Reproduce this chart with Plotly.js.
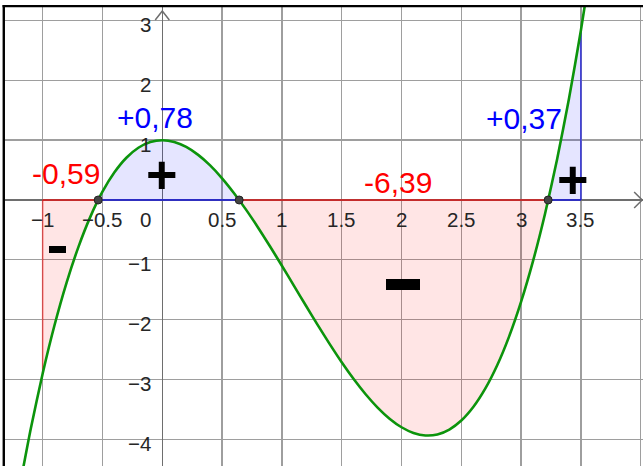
<!DOCTYPE html>
<html>
<head>
<meta charset="utf-8">
<script src="https://cdn.plot.ly/plotly-3.0.1.min.js"></script>
<style>html,body{margin:0;padding:0;background:#fff;}#chart{width:643px;height:466px;}</style>
</head>
<body>
<div id="chart"></div>
<script>
// Curve samples (f(x) values)
const xs = [-1.2,-1.1,-1,-0.9,-0.8,-0.7,-0.6,-0.5,-0.4,-0.3,-0.2,-0.1,0,0.1,0.2,0.3,0.4,0.5,0.6,0.7,0.8,0.9,1,1.1,1.2,1.3,1.4,1.5,1.6,1.7,1.8,1.9,2,2.1,2.2,2.3,2.4,2.5,2.6,2.7,2.8,2.9,3,3.1,3.2,3.3,3.4,3.5,3.6];
const ys = [-4.875,-3.828,-2.9,-2.086,-1.381,-0.779,-0.274,0.138,0.462,0.706,0.873,0.969,1,0.971,0.887,0.754,0.578,0.363,0.114,-0.161,-0.459,-0.774,-1.1,-1.432,-1.765,-2.093,-2.41,-2.713,-2.994,-3.248,-3.471,-3.657,-3.8,-3.895,-3.937,-3.92,-3.838,-3.688,-3.462,-3.155,-2.763,-2.28,-1.7,-1.018,-0.229,0.673,1.694,2.838,4.11];
const roots = [-0.536, 0.643, 3.226];
const bounds = [-1, 3.5];
const areaTexts = ["-0,59", "+0,78", "-6,39", "+0,37"];
const signTexts = ["−", "+", "−", "+"];
const xTickVals = [-1,-0.5,0,0.5,1,1.5,2,2.5,3,3.5];
const xTickText = ["−1","−0.5","0","0.5","1","1.5","2","2.5","3","3.5"];
const yTickVals = [3,2,1,-1,-2,-3,-4];
const yTickText = ["3","2","1","−1","−2","−3","−4"];

const XR = [-1.315, 4.019];
const YR = [-4.448, 3.227];
const RED = '#ff0000', BLUE = '#0000ff';
const RED_FILL = 'rgba(255,0,0,0.1)', BLUE_FILL = 'rgba(0,0,255,0.1)';
const RED_LINE = 'rgba(255,0,0,0.75)', BLUE_LINE = 'rgba(0,0,255,0.75)';

function yAt(x){ const i = xs.findIndex(v => Math.abs(v - x) < 1e-9); return ys[i]; }

const edges = [bounds[0], roots[0], roots[1], roots[2], bounds[1]];
const regionCols = [[RED_FILL, RED_LINE],[BLUE_FILL, BLUE_LINE],[RED_FILL, RED_LINE],[BLUE_FILL, BLUE_LINE]];

const traces = [];
for (let r = 0; r < 4; r++) {
  const a = edges[r], b = edges[r+1];
  const px = [], py = [];
  const aIsRoot = roots.includes(a), bIsRoot = roots.includes(b);
  px.push(a); py.push(aIsRoot ? 0 : yAt(a));
  xs.forEach((x, i) => { if (x > a + 1e-9 && x < b - 1e-9) { px.push(x); py.push(ys[i]); } });
  px.push(b); py.push(bIsRoot ? 0 : yAt(b));
  traces.push({x: px, y: py, type: 'scatter', mode: 'lines', fill: 'tozeroy',
    fillcolor: regionCols[r][0], line: {width: 0, shape: 'spline', smoothing: 0.6}, hoverinfo: 'skip', showlegend: false});
}
for (let r = 0; r < 4; r++) {
  traces.push({x: [edges[r], edges[r+1]], y: [0, 0], type: 'scatter', mode: 'lines',
    line: {color: regionCols[r][1], width: 1.6}, hoverinfo: 'skip', showlegend: false});
}
traces.push({x: [bounds[0], bounds[0]], y: [0, yAt(bounds[0])], type: 'scatter', mode: 'lines',
  line: {color: 'rgba(255,0,0,0.5)', width: 1.6}, hoverinfo: 'skip', showlegend: false});
traces.push({x: [bounds[1], bounds[1]], y: [0, yAt(bounds[1])], type: 'scatter', mode: 'lines',
  line: {color: 'rgba(0,0,255,0.6)', width: 1.6}, hoverinfo: 'skip', showlegend: false});
traces.push({x: xs, y: ys, type: 'scatter', mode: 'lines',
  line: {color: '#0c940c', width: 2.6, shape: 'spline', smoothing: 0.6}, hoverinfo: 'skip', showlegend: false});
traces.push({x: roots, y: roots.map(() => 0), type: 'scatter', mode: 'markers',
  marker: {color: '#444444', size: 8, line: {color: '#222', width: 1}}, hoverinfo: 'skip', showlegend: false});

const FONT = 'Liberation Sans, Arial, sans-serif';
const annotations = [];
xTickVals.forEach((v, i) => {
  annotations.push({x: v, y: 0, xref: 'x', yref: 'y', text: xTickText[i], showarrow: false,
    xanchor: 'center', yanchor: 'middle', yshift: -20, xshift: v === 0 ? -17 : 0,
    font: {family: FONT, size: 20.5, color: '#262626'}});
});
yTickVals.forEach((v, i) => {
  annotations.push({x: 0, y: v, xref: 'x', yref: 'y', text: yTickText[i], showarrow: false,
    xanchor: 'right', yanchor: 'middle', xshift: -9, yshift: -4,
    font: {family: FONT, size: 20.5, color: '#262626'}});
});
const areaPos = [[-0.805, 0.435], [-0.06, 1.375], [1.97, 0.30], [3.02, 1.37]];
const areaCol = [RED, BLUE, RED, BLUE];
areaTexts.forEach((t, i) => {
  annotations.push({x: areaPos[i][0], y: areaPos[i][1], xref: 'x', yref: 'y', text: t, showarrow: false,
    xanchor: 'center', yanchor: 'middle', font: {family: FONT, size: 30, color: areaCol[i]}});
});
const signPos = [[-0.88, -0.836], [0, 0.435], [2.013, -1.42], [3.434, 0.35]];
const minusSize = [[17, 7], null, [34, 11], null];
signTexts.forEach((t, i) => {
  if (minusSize[i]) {
    annotations.push({x: signPos[i][0], y: signPos[i][1], xref: 'x', yref: 'y', text: t, showarrow: false,
      xanchor: 'center', yanchor: 'middle', width: minusSize[i][0], height: minusSize[i][1],
      bgcolor: '#000', borderpad: 0, borderwidth: 0, font: {family: FONT, size: 4, color: '#000'}});
  } else {
    annotations.push({x: signPos[i][0], y: signPos[i][1], xref: 'x', yref: 'y', text: '<b>' + t + '</b>', showarrow: false,
      xanchor: 'center', yanchor: 'middle', yshift: 0, font: {family: FONT, size: 54, color: '#000'}});
  }
});

const shapes = [
  {type: 'path', xref: 'x', yref: 'y', path: 'M -0.059 3.01 L 0 3.16 L 0.059 3.01', line: {color: '#6e6e6e', width: 1.5}},
  {type: 'path', xref: 'x', yref: 'y', path: 'M 3.945 0.134 L 4.012 0 L 3.945 -0.134', line: {color: '#6e6e6e', width: 1.5}},
  {type: 'line', xref: 'paper', yref: 'paper', x0: -0.0019, x1: -0.0019, y0: -0.02, y1: 1.0046, line: {color: '#000', width: 2.4}},
  {type: 'line', xref: 'paper', yref: 'paper', x0: -0.0038, x1: 1.02, y0: 1.0018, y1: 1.0018, line: {color: '#000', width: 2.4}}
];

const layout = {
  width: 643, height: 466,
  margin: {l: 5, r: 0, t: 7, b: 0, pad: 0},
  paper_bgcolor: '#fff', plot_bgcolor: '#fff',
  showlegend: false,
  xaxis: {range: XR, tick0: 0, dtick: 0.5, showgrid: true, gridcolor: '#9e9e9e', gridwidth: 1.4,
    zeroline: true, zerolinecolor: '#6e6e6e', zerolinewidth: 1.5, showticklabels: false, ticks: '', showline: false, fixedrange: true},
  yaxis: {range: YR, tick0: 0, dtick: 1, showgrid: true, gridcolor: '#9e9e9e', gridwidth: 1.4,
    zeroline: true, zerolinecolor: '#6e6e6e', zerolinewidth: 1.5, showticklabels: false, ticks: '', showline: false, fixedrange: true},
  annotations: annotations,
  shapes: shapes
};
Plotly.newPlot('chart', traces, layout, {staticPlot: true, displayModeBar: false});
</script>
</body>
</html>
